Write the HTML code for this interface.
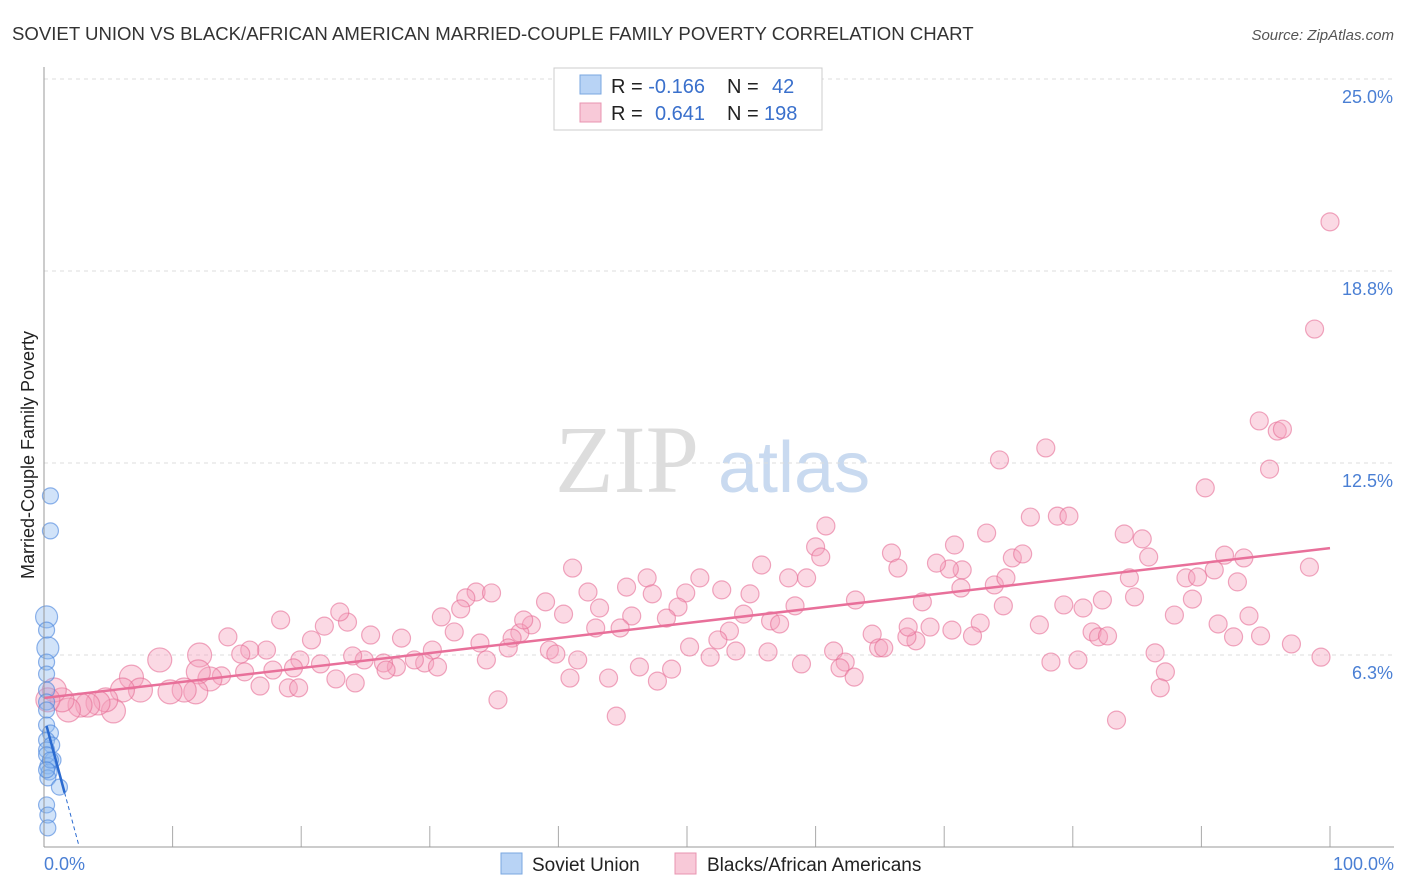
<!DOCTYPE html>
<html><head><meta charset="utf-8"><style>
body{margin:0;background:#fff;font-family:"Liberation Sans",sans-serif;}
</style></head><body>
<svg id="chart" width="1406" height="892" xmlns="http://www.w3.org/2000/svg" style="display:block">
<text x="12" y="40" font-size="18.6" fill="#333">SOVIET UNION VS BLACK/AFRICAN AMERICAN MARRIED-COUPLE FAMILY POVERTY CORRELATION CHART</text>
<text x="1394" y="40" font-size="15" fill="#555" font-style="italic" text-anchor="end">Source: ZipAtlas.com</text>
<text x="34" y="455" font-size="18" fill="#222" text-anchor="middle" transform="rotate(-90 34 455)">Married-Couple Family Poverty</text>
<text x="555" y="492" font-size="96" fill="#ddd" font-family="Liberation Serif,serif">ZIP</text>
<text x="718" y="492" font-size="72" fill="#c9daf0">atlas</text>
<g id="grid"></g><g id="pink"></g><g id="blue"></g><g id="lines"></g>
<line x1="44" y1="67" x2="44" y2="847" stroke="#999"/>
<line x1="44" y1="847" x2="1394" y2="847" stroke="#999"/>
<text x="44" y="870" font-size="18" fill="#4a7fd4">0.0%</text>
<text x="1394" y="870" font-size="18" fill="#4a7fd4" text-anchor="end">100.0%</text>
<g>
<rect x="554" y="68" width="268" height="62" fill="#fff" stroke="#ccc"/>
<rect x="580" y="75" width="21" height="19" fill="#b8d3f5" stroke="#7aa7e0"/>
<rect x="580" y="103" width="21" height="19" fill="#f8c9d8" stroke="#e894b0"/>
<text x="611" y="93" font-size="20" fill="#222">R = <tspan fill="#3a70cc">-0.166</tspan><tspan x="727">N = </tspan><tspan x="772" fill="#3a70cc">42</tspan></text>
<text x="611" y="120" font-size="20" fill="#222">R = <tspan x="655" fill="#3a70cc">0.641</tspan><tspan x="727">N = </tspan><tspan x="764" fill="#3a70cc">198</tspan></text>
</g>
<g>
<rect x="501" y="853" width="21" height="21" fill="#b8d3f5" stroke="#7aa7e0"/>
<text x="532" y="871" font-size="19" fill="#222">Soviet Union</text>
<rect x="675" y="853" width="21" height="21" fill="#f8c9d8" stroke="#e894b0"/>
<text x="707" y="871" font-size="19" fill="#222">Blacks/African Americans</text>
</g>
</svg>
<script>
const yTicks=[6.25,12.5,18.75,25];
const yTickLabels=["6.3%","12.5%","18.8%","25.0%"];
const pinkX=[100,98.8,94.5,95.9,96.3,95.3,90.3,74.3,77.9,60.8,76.7,78.8,79.7,84.0,85.4,85.9,91.8,93.3,98.4,91.0,88.8,89.7,92.8,84.4,82.3,80.8,79.3,84.8,89.3,87.9,93.7,91.3,94.6,97.0,99.3,92.5,86.4,87.2,86.8,83.4,80.4,78.3,77.4,81.5,82.0,82.7,75.3,76.1,73.9,74.8,71.4,70.4,69.4,70.8,73.3,65.9,66.4,68.3,71.3,74.6,72.8,72.2,70.6,68.9,67.8,67.1,67.2,64.4,64.9,65.3,63.1,61.4,62.3,61.9,63.0,60.0,60.4,59.3,57.9,58.4,56.5,57.2,56.3,55.8,54.4,54.9,52.7,53.3,52.4,51.0,49.9,49.3,48.4,50.2,51.8,53.8,58.9,46.9,47.3,45.3,45.7,44.8,43.2,42.3,41.1,42.9,41.5,40.4,39.0,39.3,39.8,37.9,37.0,36.4,37.3,36.1,33.6,34.8,32.8,32.4,30.9,31.9,33.9,34.4,35.3,40.9,43.9,44.5,46.3,47.7,48.8,30.2,29.6,30.6,28.8,27.8,27.4,26.4,26.6,25.4,24.9,24.0,23.6,23.0,21.8,20.8,21.5,19.9,19.4,18.4,17.8,17.3,16.0,15.3,14.3,13.8,12.9,12.1,12.0,11.8,10.9,9.8,9.0,6.8,7.5,6.1,5.4,4.8,4.2,3.4,2.8,1.9,1.4,0.8,0.3,15.6,16.8,19.0,19.8,22.7,24.2];
const pinkY=[20.35,16.86,13.87,13.54,13.6,12.3,11.69,12.6,12.99,10.45,10.74,10.77,10.77,10.19,10.03,9.44,9.5,9.41,9.11,9.02,8.76,8.79,8.63,8.76,8.04,7.78,7.88,8.14,8.07,7.55,7.52,7.26,6.87,6.61,6.18,6.84,6.32,5.7,5.18,4.13,6.09,6.02,7.23,7.0,6.84,6.87,9.41,9.54,8.53,8.76,9.02,9.05,9.24,9.83,10.22,9.57,9.08,7.98,8.43,7.85,7.29,6.87,7.06,7.16,6.71,6.84,7.16,6.93,6.48,6.48,8.04,6.38,6.02,5.83,5.53,9.77,9.44,8.76,8.76,7.85,7.36,7.26,6.35,9.18,7.58,8.24,8.37,7.03,6.74,8.76,8.27,7.81,7.45,6.51,6.18,6.38,5.96,8.76,8.24,8.46,7.52,7.13,7.78,8.3,9.08,7.13,6.09,7.58,7.98,6.41,6.28,7.23,6.97,6.8,7.39,6.48,8.3,8.27,8.11,7.75,7.49,7.0,6.64,6.09,4.79,5.5,5.5,4.26,5.86,5.4,5.79,6.41,5.99,5.86,6.09,6.8,5.86,5.99,5.76,6.9,6.09,6.22,7.32,7.65,7.19,6.74,5.96,6.09,5.83,7.39,5.76,6.41,6.41,6.28,6.84,5.57,5.47,6.25,5.7,5.05,5.11,5.05,6.09,5.53,5.11,5.11,4.43,4.79,4.69,4.62,4.62,4.46,4.79,5.11,4.79,5.7,5.24,5.18,5.18,5.47,5.34];
const blueX=[0.5,0.5,0.2,0.2,0.3,0.2,0.2,0.2,0.2,0.2,0.2,0.5,0.2,0.6,0.2,0.7,0.3,0.4,0.3,1.2,0.2,0.3,0.3,0.2,0.5,0.2];
const blueY=[11.43,10.29,7.49,7.06,6.48,6.02,5.63,5.11,4.72,4.46,3.97,3.71,3.48,3.32,3.16,2.83,2.64,2.44,2.25,1.95,1.37,1.04,0.62,3.0,2.83,2.51];
const pinkTrend=[4.85,9.73];
const blueTrend=[4.25,-1.55];
const NS="http://www.w3.org/2000/svg";
const X0=44,X1=1330,Y0=847,Y1=79;
function sx(v){return X0+(X1-X0)*v/100;}
function sy(v){return Y0-(Y0-Y1)*v/25;}
function mk(tag,attrs,parent){const e=document.createElementNS(NS,tag);for(const k in attrs)e.setAttribute(k,attrs[k]);parent.appendChild(e);return e;}
const grid=document.getElementById('grid');
yTicks.forEach((t,i)=>{
  const l=mk('line',{x1:44,x2:1394,y1:sy(t),y2:sy(t),stroke:'#ddd','stroke-dasharray':'4 4'},grid);
  
  
  const tx=mk('text',{x:1393,y:sy(t)+24,'font-size':18,fill:'#4a7fd4','text-anchor':'end'},grid);
  tx.textContent=yTickLabels[i];
  
  
});
for(let i=1;i<=10;i++){
  const x=sx(i*10);
  const t=mk('line',{x1:x,x2:x,y1:826,y2:847,stroke:'#aaa'},grid);
  
  
}
const pg=document.getElementById('pink');
pinkX.forEach((v,i)=>{
  const r=v<13?12:9;
  const c=mk('circle',{cx:sx(v),cy:sy(pinkY[i]),r:r,fill:'rgba(244,160,188,0.4)',stroke:'rgba(230,110,150,0.6)','stroke-width':1.2},pg);
  
  
});
const bg=document.getElementById('blue');
blueX.forEach((v,i)=>{
  const r=(i==2||i==4)?11:8;
  const c=mk('circle',{cx:sx(v),cy:sy(blueY[i]),r:r,fill:'rgba(140,185,240,0.4)',stroke:'rgba(70,130,220,0.6)','stroke-width':1.2},bg);
  
  
});
const lg=document.getElementById('lines');
const pl=mk('line',{x1:sx(0),y1:sy(pinkTrend[0]),x2:sx(100),y2:sy(pinkTrend[1]),stroke:'#e8709a','stroke-width':2.5},lg);


const bl=mk('line',{x1:sx(0.2),y1:sy(blueTrend[0]+blueTrend[1]*0.2),x2:sx(1.6),y2:sy(blueTrend[0]+blueTrend[1]*1.6),stroke:'#2a6ad0','stroke-width':2.5},lg);


const xe=-blueTrend[0]/blueTrend[1];
const bd=mk('line',{x1:sx(1.6),y1:sy(blueTrend[0]+blueTrend[1]*1.6),x2:sx(xe),y2:sy(0),stroke:'#2a6ad0','stroke-width':1,'stroke-dasharray':'4 3'},lg);


</script>
</body></html>
